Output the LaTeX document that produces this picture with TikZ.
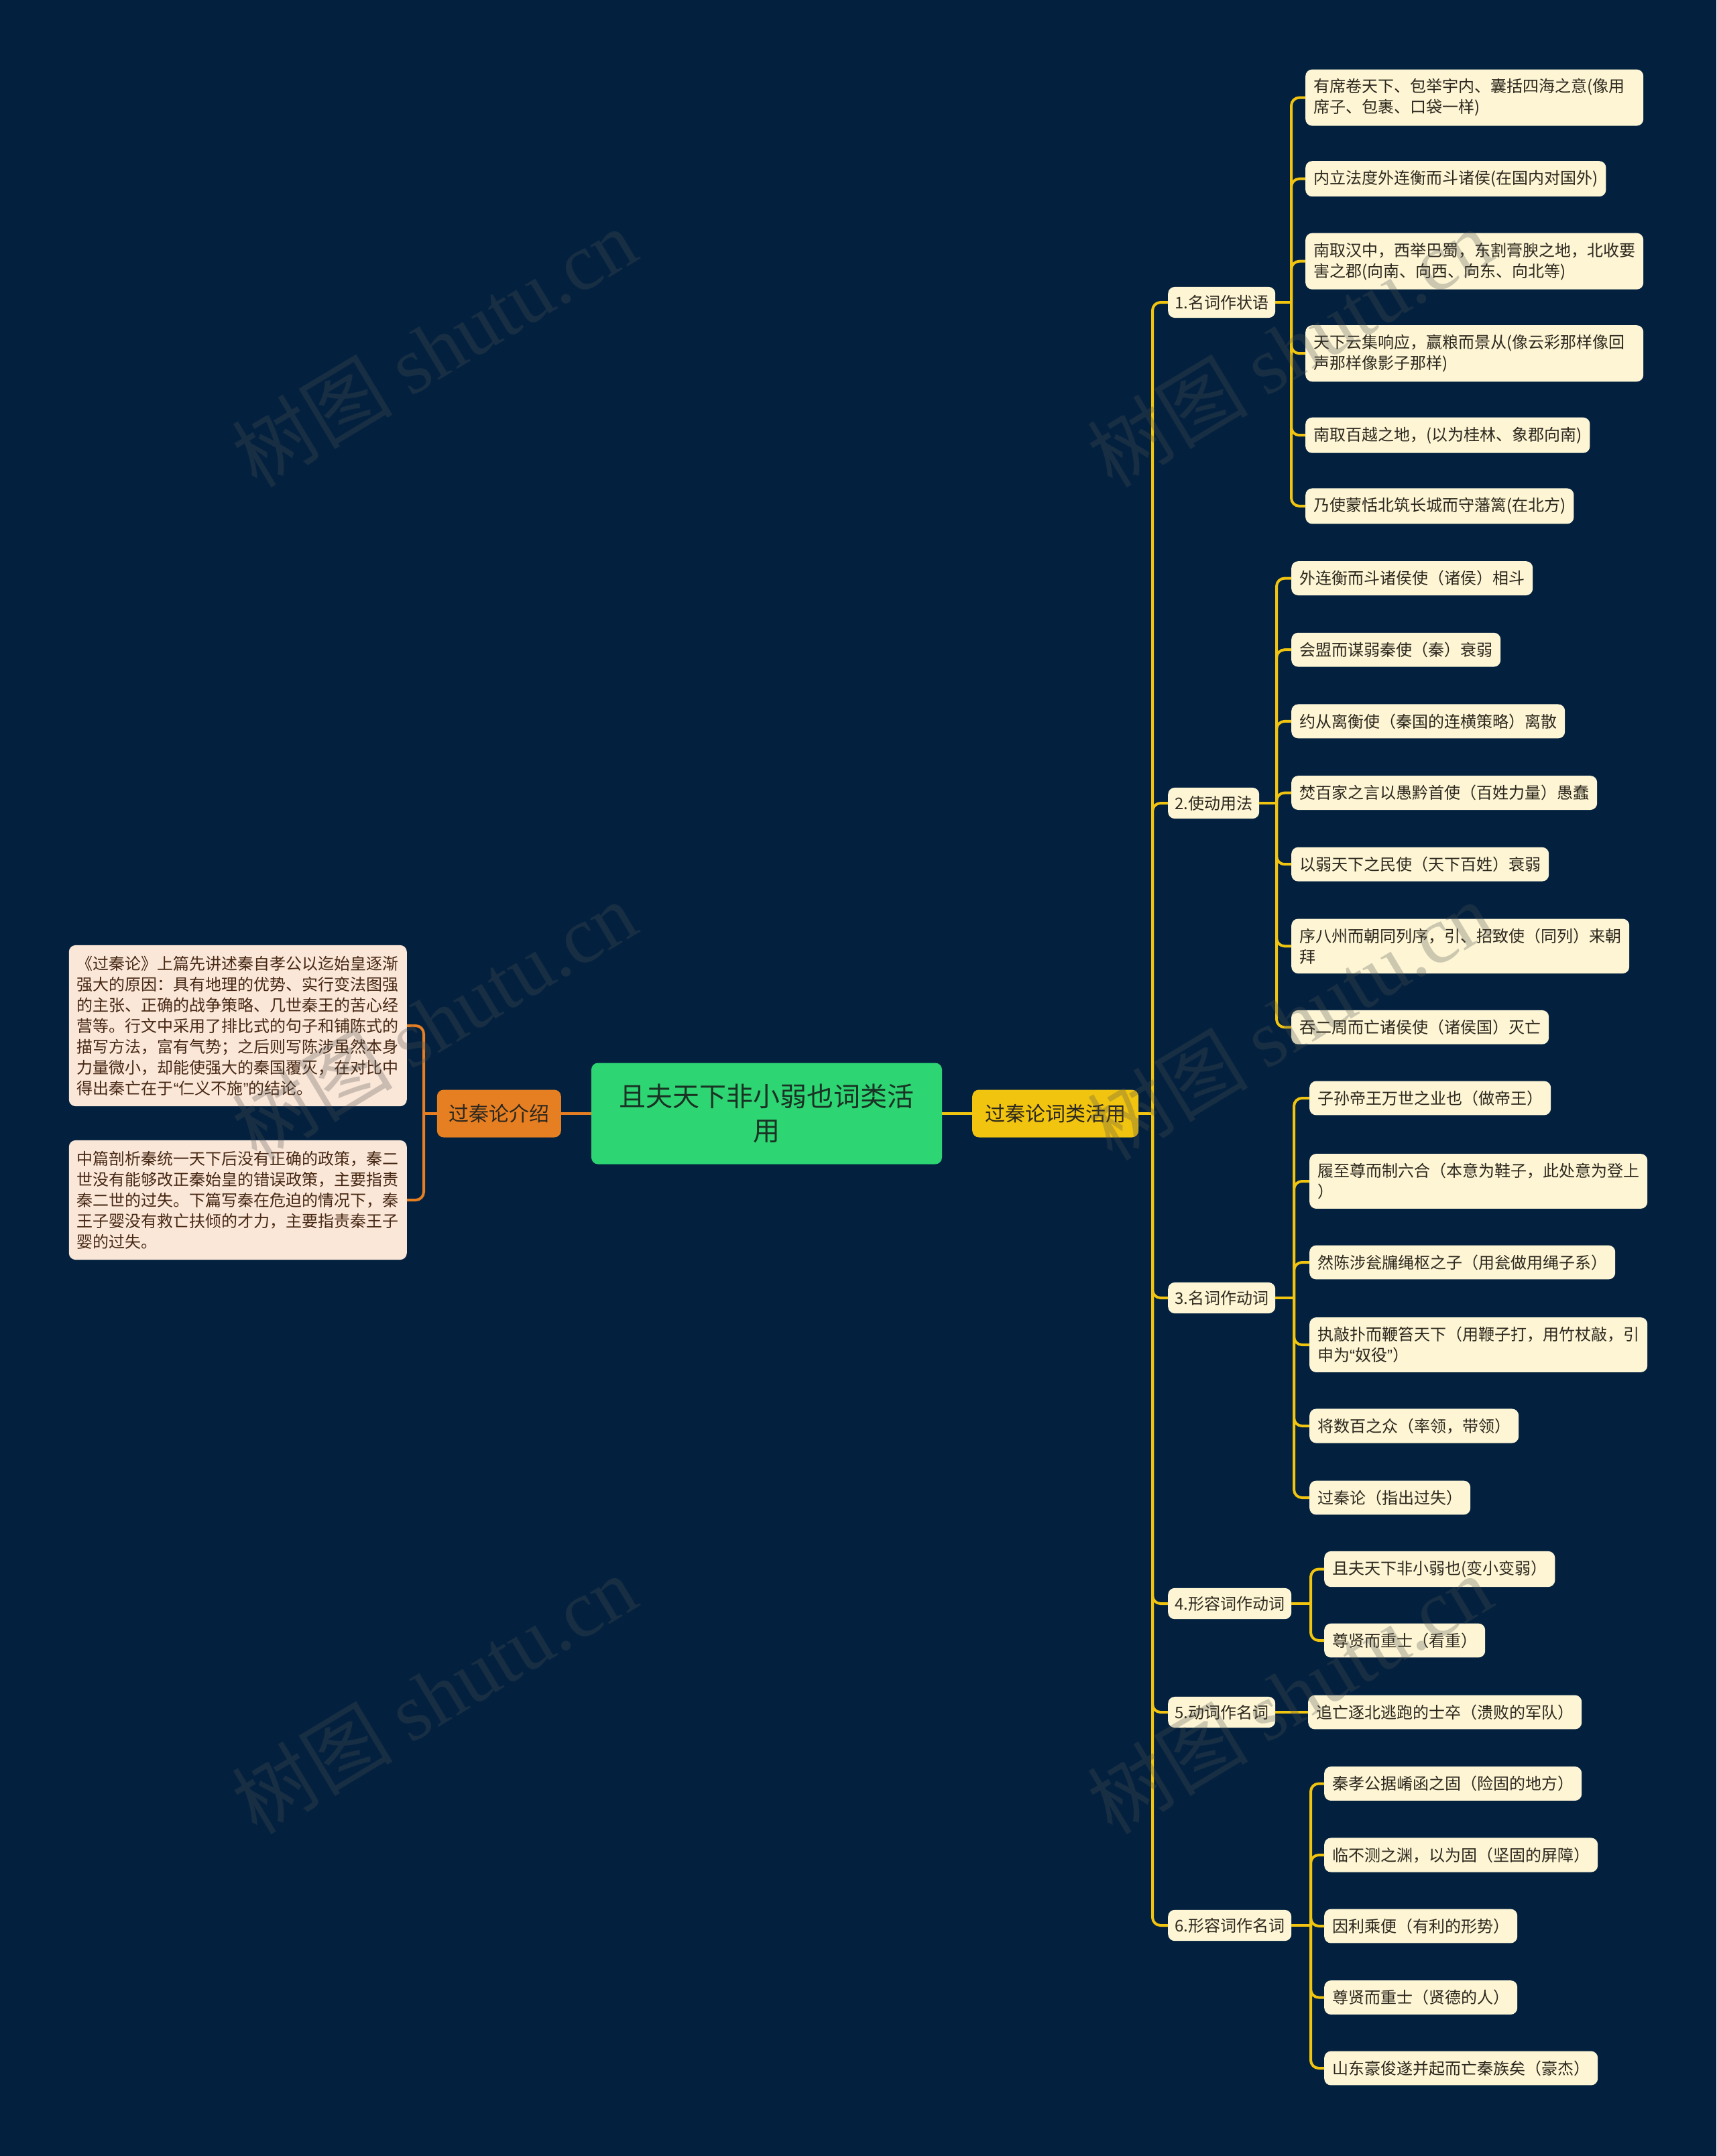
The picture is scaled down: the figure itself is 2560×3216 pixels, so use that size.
\documentclass[tikz,border=0pt]{standalone}
\usepackage{fontspec}
\setmainfont{Noto Sans CJK SC}
\newfontfamily\wmserif{Liberation Serif}
\newfontfamily\qtfont{Liberation Sans}
\newcommand{\oq}{{\qtfont “}}
\newcommand{\cq}{{\qtfont ”}}
\usetikzlibrary{calc}
\definecolor{bgc}{RGB}{3,33,63}
\definecolor{leafc}{RGB}{253,245,212}
\definecolor{peachc}{RGB}{251,231,216}
\definecolor{ylwc}{RGB}{241,196,15}
\definecolor{orgc}{RGB}{230,126,34}
\definecolor{grnc}{RGB}{46,213,115}
\definecolor{txtc}{RGB}{45,40,30}
\definecolor{brnc}{RGB}{70,40,20}
\definecolor{roottxt}{RGB}{25,50,35}
\definecolor{wmc}{RGB}{80,80,80}
\begin{document}
\begin{tikzpicture}[x=1pt,y=-1pt,
  leafbox/.style={fill=leafc, rounded corners=10pt, anchor=west, font=\fontsize{24}{31}\selectfont, text=txtc, inner xsep=12pt, inner ysep=14pt, align=left},
  widebox/.style={leafbox, text width=480pt},
  catbox/.style={leafbox, inner xsep=10pt, inner ysep=12pt},
  introbox/.style={fill=peachc, rounded corners=10pt, font=\fontsize{24}{31}\selectfont, text=brnc, inner xsep=12pt, inner ysep=16pt, text width=480pt, align=left},
  ylink/.style={draw=ylwc, line width=4pt, rounded corners=12pt},
  olink/.style={draw=orgc, line width=4pt, rounded corners=12pt},
  wmark/.style={rotate=31, text=wmc, opacity=0.28, font=\fontsize{120}{130}\selectfont}
]
\useasboundingbox (0,0) rectangle (2560,3216);
\fill[bgc] (0,0) rectangle (2560,3216);

% root and main branches
\node[fill=grnc, rounded corners=10pt, minimum width=523pt, minimum height=151pt, text width=480pt, align=center, font=\fontsize{40}{51}\selectfont, text=roottxt] (root) at (1143.5,1661) {且夫天下非小弱也词类活\\用};
\node[fill=ylwc, rounded corners=10pt, minimum width=248pt, minimum height=71pt, font=\fontsize{30}{36}\selectfont, text=txtc, anchor=west] (main) at (1450,1661) {过秦论词类活用};
\node[fill=orgc, rounded corners=10pt, minimum width=185pt, minimum height=71pt, font=\fontsize{30}{36}\selectfont, text=txtc, anchor=east] (intro) at (837,1661) {过秦论介绍};
\draw[ylink] (root.east) -- (main.west);
\draw[olink] (root.west) -- (intro.east);

% intro leaves
\node[introbox, anchor=east] (i1) at (607,1530) {《过秦论》上篇先讲述秦自孝公以迄始皇逐渐\\强大的原因：具有地理的优势、实行变法图强\\的主张、正确的战争策略、几世秦王的苦心经\\营等。行文中采用了排比式的句子和铺陈式的\\描写方法，富有气势；之后则写陈涉虽然本身\\力量微小，却能使强大的秦国覆灭，在对比中\\得出秦亡在于\oq 仁义不施\cq 的结论。};
\node[introbox, anchor=east] (i2) at (607,1790) {中篇剖析秦统一天下后没有正确的政策，秦二\\世没有能够改正秦始皇的错误政策，主要指责\\秦二世的过失。下篇写秦在危迫的情况下，秦\\王子婴没有救亡扶倾的才力，主要指责秦王子\\婴的过失。};
\coordinate (jo) at (632,1661);
\draw[olink] (intro.west) -- (jo);
\draw[olink] (jo) |- (i1.east);
\draw[olink] (jo) |- (i2.east);

% categories
\node[catbox] (c1) at (1742,451) {1.名词作状语};
\node[catbox] (c2) at (1742,1198) {2.使动用法};
\node[catbox] (c3) at (1742,1936) {3.名词作动词};
\node[catbox] (c4) at (1742,2392) {4.形容词作动词};
\node[catbox] (c5) at (1742,2554) {5.动词作名词};
\node[catbox] (c6) at (1742,2872) {6.形容词作名词};
\coordinate (jt) at (1719,1661);
\draw[ylink] (main.east) -- (jt);
\foreach \c in {c1,c2,c3,c4,c5,c6}{\draw[ylink] (jt) |- (\c.west);}

% group 1
\node[widebox] (a1) at (1947,145.6) {有席卷天下、包举宇内、囊括四海之意(像用\\席子、包裹、口袋一样)};
\node[leafbox] (a2) at (1947,266.7) {内立法度外连衡而斗诸侯(在国内对国外)};
\node[widebox] (a3) at (1947,389.7) {南取汉中，西举巴蜀，东割膏腴之地，北收要\\害之郡(向南、向西、向东、向北等)};
\node[widebox] (a4) at (1947,527.2) {天下云集响应，赢粮而景从(像云彩那样像回\\声那样像影子那样)};
\node[leafbox] (a5) at (1947,649.2) {南取百越之地，(以为桂林、象郡向南)};
\node[leafbox] (a6) at (1947,754.9) {乃使蒙恬北筑长城而守藩篱(在北方)};
\coordinate (j1) at (1926,451);
\draw[ylink] (c1.east) -- (j1);
\foreach \n in {a1,a2,a3,a4,a5,a6}{\draw[ylink] (j1) |- (\n.west);}

% group 2
\node[leafbox] (b1) at (1926,862.6) {外连衡而斗诸侯使（诸侯）相斗};
\node[leafbox] (b2) at (1926,969.2) {会盟而谋弱秦使（秦）衰弱};
\node[leafbox] (b3) at (1926,1075.9) {约从离衡使（秦国的连横策略）离散};
\node[leafbox] (b4) at (1926,1182.6) {焚百家之言以愚黔首使（百姓力量）愚蠢};
\node[leafbox] (b5) at (1926,1289.2) {以弱天下之民使（天下百姓）衰弱};
\node[widebox] (b6) at (1926,1411.3) {序八州而朝同列序，引、招致使（同列）来朝\\拜};
\node[leafbox] (b7) at (1926,1532.3) {吞二周而亡诸侯使（诸侯国）灭亡};
\coordinate (j2) at (1904,1198);
\draw[ylink] (c2.east) -- (j2);
\foreach \n in {b1,b2,b3,b4,b5,b6,b7}{\draw[ylink] (j2) |- (\n.west);}

% group 3
\node[leafbox] (d1) at (1953,1638) {子孙帝王万世之业也（做帝王）};
\node[widebox] (d2) at (1953,1762) {履至尊而制六合（本意为鞋子，此处意为登上\\）};
\node[leafbox] (d3) at (1953,1883) {然陈涉瓮牖绳枢之子（用瓮做用绳子系）};
\node[widebox] (d4) at (1953,2006) {执敲扑而鞭笞天下（用鞭子打，用竹杖敲，引\\申为\oq 奴役\cq ）};
\node[leafbox] (d5) at (1953,2127) {将数百之众（率领，带领）};
\node[leafbox] (d6) at (1953,2234) {过秦论（指出过失）};
\coordinate (j3) at (1930,1936);
\draw[ylink] (c3.east) -- (j3);
\foreach \n in {d1,d2,d3,d4,d5,d6}{\draw[ylink] (j3) |- (\n.west);}

% group 4
\node[leafbox] (e1) at (1975,2340.5) {且夫天下非小弱也(变小变弱）};
\node[leafbox] (e2) at (1975,2447) {尊贤而重士（看重）};
\coordinate (j4) at (1955,2392);
\draw[ylink] (c4.east) -- (j4);
\foreach \n in {e1,e2}{\draw[ylink] (j4) |- (\n.west);}

% group 5
\node[leafbox] (f1) at (1951,2554) {追亡逐北逃跑的士卒（溃败的军队）};
\draw[ylink] (c5.east) -- (f1.west);

% group 6
\node[leafbox] (g1) at (1975,2660.5) {秦孝公据崤函之固（险固的地方）};
\node[leafbox] (g2) at (1975,2767) {临不测之渊，以为固（坚固的屏障）};
\node[leafbox] (g3) at (1975,2873) {因利乘便（有利的形势）};
\node[leafbox] (g4) at (1975,2979.5) {尊贤而重士（贤德的人）};
\node[leafbox] (g5) at (1975,3085) {山东豪俊遂并起而亡秦族矣（豪杰）};
\coordinate (j6) at (1955,2872);
\draw[ylink] (c6.east) -- (j6);
\foreach \n in {g1,g2,g3,g4,g5}{\draw[ylink] (j6) |- (\n.west);}

% watermarks
\node[wmark] (wm1) at (647,518) {树图 {\wmserif shutu.cn}};
\node[wmark] (wm2) at (1923,518) {树图 {\wmserif shutu.cn}};
\node[wmark] (wm3) at (647,1522) {树图 {\wmserif shutu.cn}};
\node[wmark] (wm4) at (1923,1522) {树图 {\wmserif shutu.cn}};
\node[wmark] (wm5) at (647,2527) {树图 {\wmserif shutu.cn}};
\node[wmark] (wm6) at (1923,2527) {树图 {\wmserif shutu.cn}};
\end{tikzpicture}
\end{document}
